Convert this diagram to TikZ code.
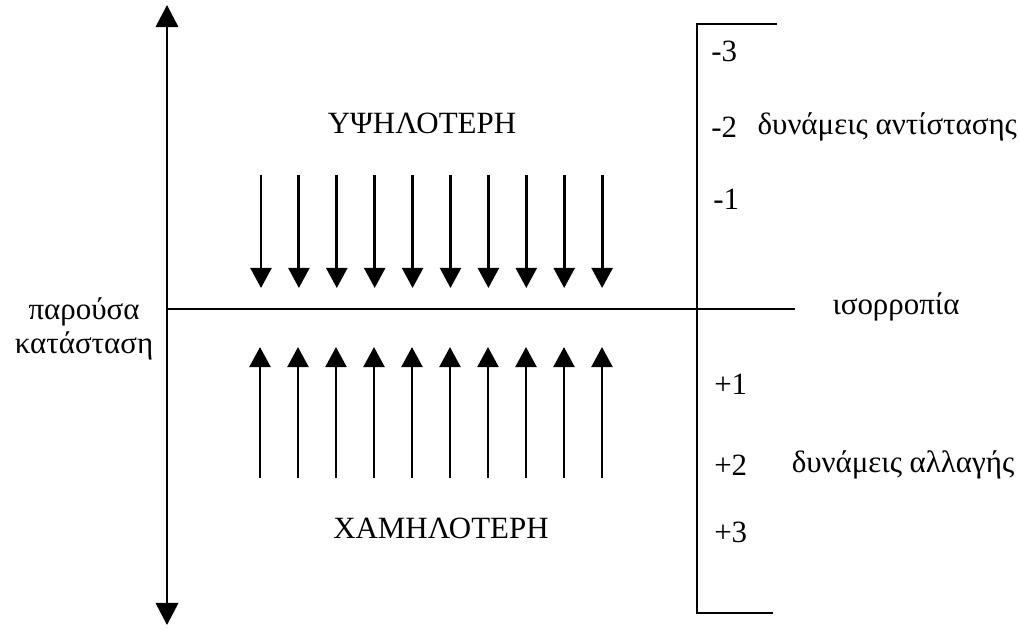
\documentclass[tikz,border=0pt]{standalone}
\usepackage{fontspec}
\setmainfont{Liberation Serif}
\usetikzlibrary{arrows.meta,positioning}

\begin{document}
\begin{tikzpicture}[
  x=0.025cm, y=-0.025cm,
  font=\fontsize{22}{24}\selectfont,
  axis/.style={{Triangle[length=5.5mm, width=5.6mm]}-{Triangle[length=5.5mm, width=5.6mm]}, line width=1.6pt},
  force/.style={-{Triangle[length=5mm, width=5.2mm]}, line width=2pt},
  rule/.style={line width=1.4pt},
  lvl/.style={anchor=west, inner sep=0pt},
  lbl/.style={align=center, inner sep=0pt}
]
\useasboundingbox (0,0) rectangle (1019,630);

% axis and equilibrium line
\coordinate (axtop) at (167,5);
\coordinate (axbot) at (167,625);
\coordinate (eqL) at (167,309);
\coordinate (eqR) at (795,309);
\draw[axis] (axbot) -- (axtop);
\draw[rule] (eqL) -- (eqR);

\node[lbl] (now) at (84,329) {παρούσα\\κατάσταση};
\node[lbl] (eq) at (896,307) {ισορροπία};

% forces
\foreach \i in {0,...,9} {
  \coordinate (dtop\i) at ({261+37.9*\i},175);
  \coordinate (dtip\i) at ({261+37.9*\i},288);
  \coordinate (ubot\i) at ({260+38*\i},478);
  \coordinate (utip\i) at ({260+38*\i},347);
  \draw[force] (dtop\i) -- (dtip\i);
  \draw[force] (ubot\i) -- (utip\i);
}

\node[lbl] (high) at (422,123) {ΥΨΗΛΟΤΕΡΗ};
\node[lbl] (low) at (441,528) {ΧΑΜΗΛΟΤΕΡΗ};

% scale bracket
\coordinate (brTR) at (777,24);
\coordinate (brTL) at (697,24);
\coordinate (brBL) at (697,613);
\coordinate (brBR) at (773,613);
\draw[rule] (brTR) -- (brTL) -- (brBL) -- (brBR);

\node[lvl] (m3) at (711,51) {-3};
\node[lvl] (m2) at (711,127) {-2};
\node[lvl] (m1) at (713,199) {-1};
\node[lvl] (p1) at (714,384) {+1};
\node[lvl] (p2) at (714,465) {+2};
\node[lvl] (p3) at (714,532) {+3};

\node[lvl, right=5mm of m2] (resist) {δυνάμεις αντίστασης};
\node[lvl, right=11mm of p2] (change) {δυνάμεις αλλαγής};

\end{tikzpicture}
\end{document}
